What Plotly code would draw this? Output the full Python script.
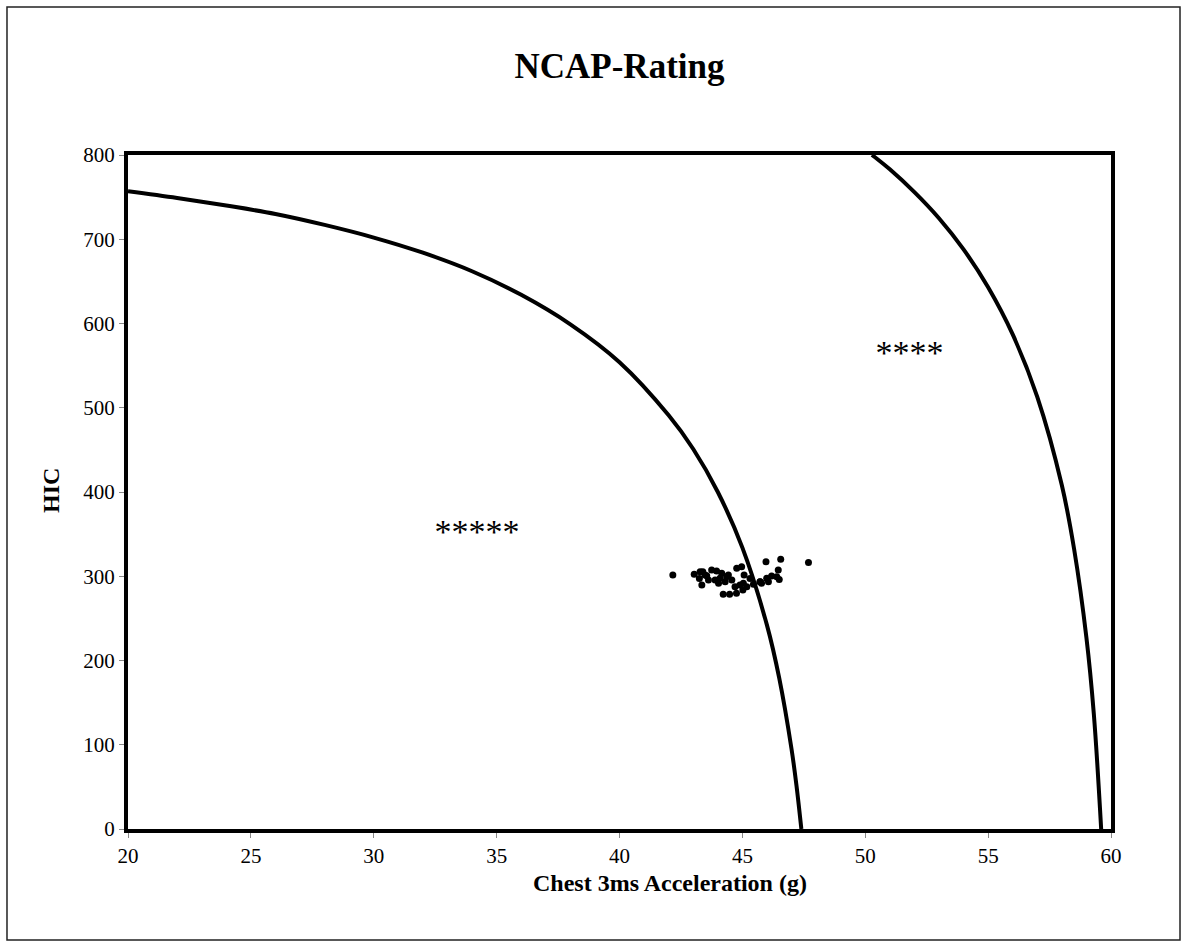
import plotly.graph_objects as go

# Rating boundary curves (chest g, HIC)
five_star_x = [20, 22, 24, 26, 28, 30, 32, 34, 36, 38, 40, 42, 43, 44, 45, 46, 46.5, 47, 47.2, 47.4]
five_star_y = [757, 749, 740, 730, 717, 702, 684, 662, 634, 599, 554, 491, 451, 400, 334, 242, 179, 95, 52, 0]

four_star_x = [50.27, 50.5, 51, 52, 53, 54, 55, 56, 57, 58, 58.5, 59, 59.3, 59.6]
four_star_y = [800, 795, 783, 756, 725, 688, 643, 587, 513, 408, 332, 227, 137, 0]

# Test results (scatter)
test_x = [42.17, 43.04, 43.28, 43.39, 43.48, 43.75, 43.95, 44.16, 44.43, 44.77, 44.97,
          43.25, 43.55, 43.35, 43.62, 43.89, 44.03, 44.30, 44.57, 44.70, 44.90, 45.02,
          44.22, 44.48, 44.76, 45.07, 45.04, 45.18, 45.31, 45.45, 45.72, 45.78, 45.99,
          46.06, 46.19, 46.40, 46.50, 46.46, 45.96, 46.56, 47.69, 44.09, 44.36, 45.72]
test_y = [301.5, 302.3, 305.4, 305.4, 301.5, 307.4, 306.2, 303.5, 301.5, 309.4, 311.3,
          297.4, 300.6, 289.6, 295.5, 295.5, 291.6, 293.5, 295.5, 287.6, 289.6, 283.7,
          278.6, 278.6, 279.8, 301.5, 291.6, 287.6, 297.4, 290.4, 293.5, 291.6, 297.5,
          293.5, 300.3, 299.5, 296.2, 307.4, 317.3, 320.1, 316.3, 297.5, 299.5, 293.5]

x_ticks = [20, 25, 30, 35, 40, 45, 50, 55, 60]
y_ticks = [0, 100, 200, 300, 400, 500, 600, 700, 800]

labels = ["*****", "****"]
label_x = [34.2, 51.8]
label_y = [350, 562]

FONT = "Liberation Serif, Times New Roman, serif"

fig = go.Figure()
fig.add_trace(go.Scatter(x=five_star_x, y=five_star_y, mode="lines",
                         line=dict(color="black", width=4, shape="spline"),
                         showlegend=False))
fig.add_trace(go.Scatter(x=four_star_x, y=four_star_y, mode="lines",
                         line=dict(color="black", width=4, shape="spline"),
                         showlegend=False))
fig.add_trace(go.Scatter(x=test_x, y=test_y, mode="markers",
                         marker=dict(color="black", size=7),
                         showlegend=False))
fig.add_trace(go.Scatter(x=label_x, y=label_y, mode="text", text=labels,
                         textfont=dict(family=FONT, size=34, color="black"),
                         showlegend=False))

fig.add_shape(type="rect", xref="paper", yref="paper",
              x0=-0.1231, x1=1.0702, y0=-0.1647, y1=1.2196,
              line=dict(color="#222222", width=1.5), layer="below")

# Axis titles
fig.add_annotation(text="<b>Chest 3ms Acceleration (g)</b>", xref="paper", yref="paper",
                   x=0.5514, y=-0.0801, xanchor="center", yanchor="middle",
                   showarrow=False, font=dict(family=FONT, size=24, color="black"))
fig.add_annotation(text="<b>HIC</b>", xref="paper", yref="paper",
                   x=-0.0783, y=0.5015, xanchor="center", yanchor="middle",
                   textangle=-90, showarrow=False,
                   font=dict(family=FONT, size=24, color="black"))

fig.update_layout(
    width=1187, height=947,
    margin=dict(l=128, r=76, t=155, b=118),
    paper_bgcolor="white", plot_bgcolor="white",
    font=dict(family=FONT, color="black", size=21),
    title=dict(text="<b>NCAP-Rating</b>", x=0.5, xref="paper", xanchor="center",
               y=1 - 66 / 947, yanchor="middle",
               font=dict(family=FONT, size=35, color="black")),
)
fig.update_xaxes(range=[20, 60], tickvals=x_ticks, showgrid=False, zeroline=False,
                 showline=True, linecolor="black", linewidth=4, mirror=True,
                 ticks="outside", ticklen=5, tickcolor="#888888", tickwidth=1,
                 tickfont=dict(size=21))
fig.update_yaxes(range=[0, 800], tickvals=y_ticks, showgrid=False, zeroline=False,
                 showline=True, linecolor="black", linewidth=4, mirror=True,
                 ticks="outside", ticklen=5, tickcolor="#888888", tickwidth=1,
                 tickfont=dict(size=21))

fig.write_html("out.html", config={"displayModeBar": False},
               post_script="document.body.style.margin='0';")
